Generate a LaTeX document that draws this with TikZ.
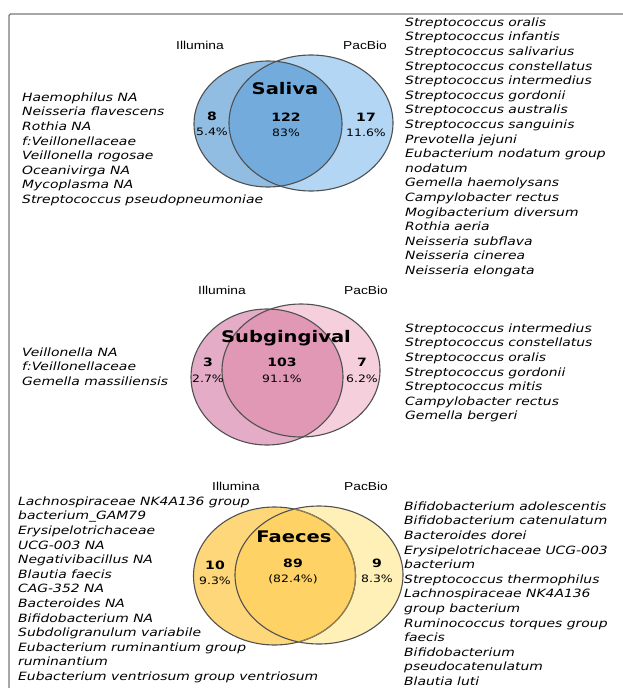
\documentclass[tikz,border=0pt]{standalone}
\usepackage{fontspec}
\newfontfamily\spfont{DejaVu Sans}[FakeStretch=1.22]
\newfontfamily\labfont{Liberation Sans}[FakeStretch=1.2]

\definecolor{framegray}{RGB}{120,120,120}
\definecolor{vennline}{RGB}{80,80,80}
\definecolor{salL}{RGB}{145,189,226}
\definecolor{salR}{RGB}{178,214,243}
\definecolor{salO}{RGB}{115,172,220}
\definecolor{subL}{RGB}{228,172,199}
\definecolor{subR}{RGB}{245,208,220}
\definecolor{subO}{RGB}{224,152,180}
\definecolor{faeL}{RGB}{254,215,122}
\definecolor{faeR}{RGB}{255,240,183}
\definecolor{faeO}{RGB}{254,210,100}
\definecolor{faeIn}{RGB}{150,128,80}

\begin{document}
\begin{tikzpicture}[x=1pt,y=1pt,yscale=-1,
  species/.style={anchor=north west,inner sep=0pt,align=left,font=\spfont\itshape\fontsize{11.4}{14.6}\selectfont},
  count/.style={inner sep=0pt,font=\spfont\bfseries\fontsize{11.5}{12}\selectfont},
  pct/.style={inner sep=0pt,font=\spfont\fontsize{10.2}{12}\selectfont},
  sitetitle/.style={inner sep=0pt,font=\spfont\bfseries\fontsize{16}{18}\selectfont},
  platform/.style={inner sep=0pt,font=\labfont\fontsize{11.5}{12}\selectfont},
  venn/.style={draw=vennline,line width=1.1pt}]
\useasboundingbox (0,0) rectangle (623,688);

%Shape: Frame
\draw [framegray,line width=1.3pt,rounded corners=1.5pt] (9,688) -- (9,14) -- (623,14);

%Shape: Ellipse (Saliva)
\fill [salL] (268,124) ellipse [x radius=74,y radius=63];
\fill [salR] (311,123) ellipse [x radius=82,y radius=68];
\begin{scope}
\clip (268,124) ellipse [x radius=74,y radius=63];
\fill [salO] (311,123) ellipse [x radius=82,y radius=68];
\end{scope}
\draw [venn] (268,124) ellipse [x radius=74,y radius=63];
\draw [venn] (311,123) ellipse [x radius=82,y radius=68];

%Shape: Ellipse (Subgingival)
\fill [subL] (267,377) ellipse [x radius=76,y radius=68];
\fill [subR] (301,370.5) ellipse [x radius=79,y radius=66.5];
\begin{scope}
\clip (267,377) ellipse [x radius=76,y radius=68];
\fill [subO] (301,370.5) ellipse [x radius=79,y radius=66.5];
\end{scope}
\draw [venn] (267,377) ellipse [x radius=76,y radius=68];
\draw [venn] (301,370.5) ellipse [x radius=79,y radius=66.5];

%Shape: Ellipse (Faeces)
\fill [faeL] (274.5,576) ellipse [x radius=81,y radius=69];
\fill [faeR] (319,575) ellipse [x radius=84,y radius=69];
\begin{scope}
\clip (274.5,576) ellipse [x radius=81,y radius=69];
\fill [faeO] (319,575) ellipse [x radius=84,y radius=69];
\end{scope}
\draw [venn] (274.5,576) ellipse [x radius=81,y radius=69];
\draw [venn] (319,575) ellipse [x radius=84,y radius=69];
\begin{scope}
\clip (319,575) ellipse [x radius=84,y radius=69];
\draw [faeIn,line width=1.1pt] (274.5,576) ellipse [x radius=81,y radius=69];
\end{scope}

% Text Node (Saliva)
\node [platform] (salIll) at (200,45) {Illumina};
\node [platform] (salPac) at (365,45) {PacBio};
\node [sitetitle] (salTitle) at (285,89) {Saliva};
\node [count] (salLn) at (212,116) {8};
\node [pct] (salLp) at (212,132) {5.4\%};
\node [count] (salOn) at (286,117) {122};
\node [pct] (salOp) at (286,133) {83\%};
\node [count] (salRn) at (366,117) {17};
\node [pct] (salRp) at (366,133) {11.6\%};
\node [species] (salLeft) at (22,92.5) {Haemophilus NA\\Neisseria flavescens\\Rothia NA\\f:Veillonellaceae\\Veillonella rogosae\\Oceanivirga NA\\Mycoplasma NA\\Streptococcus pseudopneumoniae};
\node [species] (salRight) at (405,17.5) {Streptococcus oralis\\Streptococcus infantis\\Streptococcus salivarius\\Streptococcus constellatus\\Streptococcus intermedius\\Streptococcus gordonii\\Streptococcus australis\\Streptococcus sanguinis\\Prevotella jejuni\\Eubacterium nodatum group\\nodatum\\Gemella haemolysans\\Campylobacter rectus\\Mogibacterium diversum\\Rothia aeria\\Neisseria subflava\\Neisseria cinerea\\Neisseria elongata};

% Text Node (Subgingival)
\node [platform] (subIll) at (222,290) {Illumina};
\node [platform] (subPac) at (366,290) {PacBio};
\node [sitetitle] (subTitle) at (286,338) {Subgingival};
\node [count] (subLn) at (208,362) {3};
\node [pct] (subLp) at (208,379) {2.7\%};
\node [count] (subOn) at (282,362) {103};
\node [pct] (subOp) at (282,379) {91.1\%};
\node [count] (subRn) at (362,362) {7};
\node [pct] (subRp) at (362,379) {6.2\%};
\node [species] (subLeft) at (22,347.5) {Veillonella NA\\f:Veillonellaceae\\Gemella massiliensis};
\node [species] (subRight) at (405,323.5) {Streptococcus intermedius\\Streptococcus constellatus\\Streptococcus oralis\\Streptococcus gordonii\\Streptococcus mitis\\Campylobacter rectus\\Gemella bergeri};

% Text Node (Faeces)
\node [platform] (faeIll) at (236,486) {Illumina};
\node [platform] (faePac) at (366,486) {PacBio};
\node [sitetitle] (faeTitle) at (294,537) {Faeces};
\node [count] (faeLn) at (215,565) {10};
\node [pct] (faeLp) at (215,581) {9.3\%};
\node [count] (faeOn) at (293,563) {89};
\node [pct] (faeOp) at (293,579) {(82.4\%)};
\node [count] (faeRn) at (377,563) {9};
\node [pct] (faeRp) at (377,579) {8.3\%};
\node [species] (faeLeft) at (18,496.5) {Lachnospiraceae NK4A136 group\\bacterium\_GAM79\\Erysipelotrichaceae\\UCG-003 NA\\Negativibacillus NA\\Blautia faecis\\CAG-352 NA\\Bacteroides NA\\Bifidobacterium NA\\Subdoligranulum variabile\\Eubacterium ruminantium group\\ruminantium\\Eubacterium ventriosum group ventriosum};
\node [species] (faeRight) at (404,501.5) {Bifidobacterium adolescentis\\Bifidobacterium catenulatum\\Bacteroides dorei\\Erysipelotrichaceae UCG-003\\bacterium\\Streptococcus thermophilus\\Lachnospiraceae NK4A136\\group bacterium\\Ruminococcus torques group\\faecis\\Bifidobacterium\\pseudocatenulatum\\Blautia luti};

\end{tikzpicture}
\end{document}
